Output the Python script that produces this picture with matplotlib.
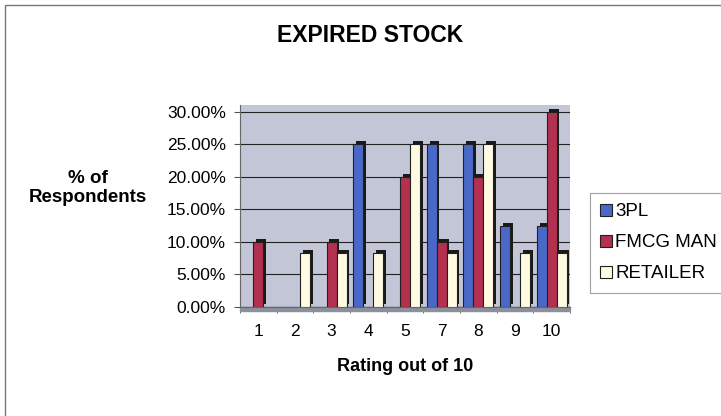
import numpy as np
import matplotlib.pyplot as plt
from matplotlib.patches import Patch, Rectangle

plt.rcParams['font.family'] = ['Liberation Sans', 'DejaVu Sans']

# Data
ratings = ['1', '2', '3', '4', '5', '7', '8', '9', '10']
pl3 = [0, 0, 0, 25, 0, 25, 25, 12.5, 12.5]
fmcg = [10, 0, 10, 0, 20, 10, 20, 0, 30]
retailer = [0, 8.33, 8.33, 8.33, 25, 8.33, 25, 8.33, 8.33]
series_names = ['3PL', 'FMCG MAN', 'RETAILER']
colors = ['#4a68c8', '#b3304f', '#fffbe3']

fig = plt.figure(figsize=(7.21, 4.16), dpi=100)
ax = fig.add_axes([240 / 721, 1 - 307 / 416, 330 / 721, 202 / 416])

x = np.arange(len(ratings))
w = 0.27
dx, dy = 0.075, 0.45  # fake 3D depth

# back wall and floor
ax.set_facecolor('#c3c6d6')
ax.add_patch(Rectangle((-0.5, -0.6), len(ratings), 0.6, color='#8c8f9c', zorder=1, clip_on=False))

for i, (vals, c) in enumerate(zip([pl3, fmcg, retailer], colors)):
    xs = x + (i - 1) * w
    vals = np.array(vals)
    mask = vals > 0
    # dark side / top of each bar
    ax.bar(xs[mask] + dx, vals[mask], w, bottom=dy, color='#1a1a1a', zorder=2 + i * 2, linewidth=0)
    ax.bar(xs[mask], vals[mask], w, color=c, edgecolor='#202020', linewidth=0.8, zorder=3 + i * 2)

ax.set_xlim(-0.5, len(ratings) - 0.5)
ax.set_ylim(0, 31)
ax.set_yticks([0, 5, 10, 15, 20, 25, 30])
ax.set_yticklabels(['%.2f%%' % v for v in [0, 5, 10, 15, 20, 25, 30]], fontsize=12.5)
ax.yaxis.grid(True, color='#222222', linewidth=0.8)
ax.set_axisbelow(True)
ax.set_xticks(x)
ax.set_xticklabels(ratings, fontsize=12.5)
ax.set_xticks(np.arange(-0.5, len(ratings)), minor=True)
ax.tick_params(axis='x', which='major', length=0, pad=12)
ax.tick_params(axis='x', which='minor', length=4, color='#555555')
ax.tick_params(axis='y', length=4, color='#555555', pad=6)
for s in ['top', 'right']:
    ax.spines[s].set_visible(False)
ax.spines['left'].set_color('#666666')
ax.spines['bottom'].set_color('#666666')

ax.set_xlabel('Rating out of 10', fontsize=13, fontweight='bold', labelpad=14)
fig.text(88 / 721, 1 - 188 / 416, '% of\nRespondents', ha='center', va='center',
         fontsize=13.5, fontweight='bold', linespacing=1.15)
fig.text(370 / 721, 1 - 35 / 416, 'EXPIRED STOCK', ha='center', va='center',
         fontsize=16.5, fontweight='bold')

handles = [Patch(facecolor=c, edgecolor='#202020', linewidth=0.8) for c in colors]
leg = fig.legend(handles, series_names, loc='upper left', bbox_to_anchor=(590 / 721, 1 - 193 / 416),
                 fontsize=13.5, frameon=True, fancybox=False, handlelength=0.6, handleheight=0.6,
                 handletextpad=0.2, borderpad=0.55, labelspacing=0.75, borderaxespad=0)
leg.get_frame().set_edgecolor('#888888')
leg.get_frame().set_linewidth(0.8)

# outer chart border
fig.add_artist(Rectangle((5 / 721, -0.01), 1.1, 1 - 5 / 416 + 0.01, transform=fig.transFigure,
                         fill=False, edgecolor='#777777', linewidth=1))

fig.savefig('out.png', dpi=100)
